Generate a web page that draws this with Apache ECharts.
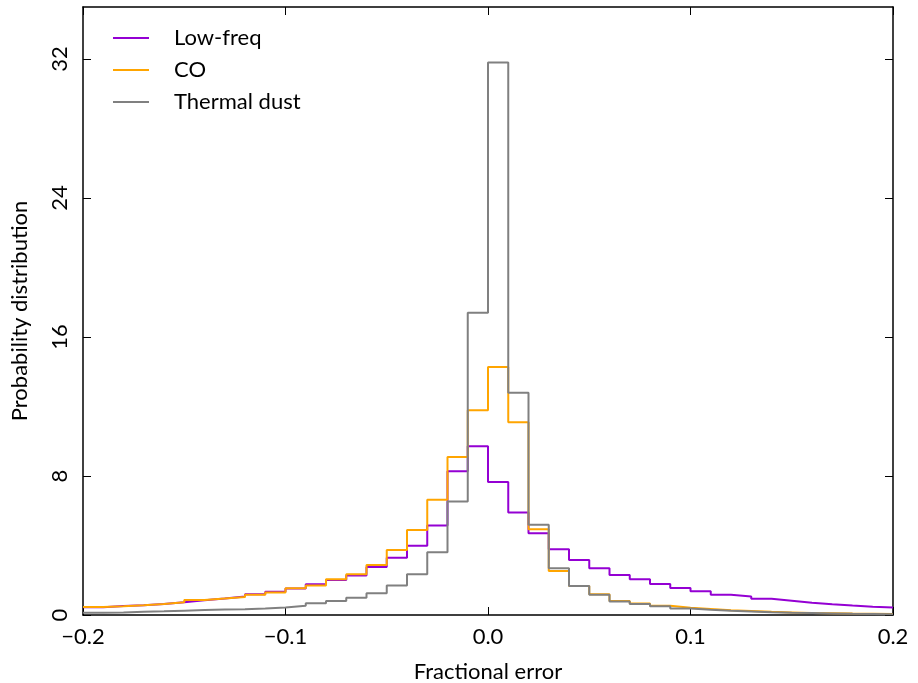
<!DOCTYPE html>
<html>
<head>
<meta charset="utf-8">
<script src="https://cdn.jsdelivr.net/npm/echarts@6/dist/echarts.min.js"></script>
<style>
html,body{margin:0;padding:0;background:#fff;}
#chart{width:918px;height:683px;}
</style>
</head>
<body>
<div id="chart"></div>
<script>
// Histogram bins: 40 bins of width 0.01 from -0.2 to 0.2
var binStart = -0.2;
var binWidth = 0.01;
var seriesNames = ['Low-freq', 'CO', 'Thermal dust'];
var lowFreq = [0.44, 0.52, 0.56, 0.64, 0.74, 0.85, 0.95, 1.06, 1.2, 1.34, 1.52, 1.77, 2.02, 2.27, 2.77, 3.3, 3.98, 5.15, 8.27, 9.71,
               7.65, 5.9, 4.71, 3.79, 3.17, 2.69, 2.3, 2.06, 1.79, 1.56, 1.36, 1.16, 1.06, 0.93, 0.82, 0.71, 0.62, 0.54, 0.48, 0.43];
var co = [0.46, 0.5, 0.56, 0.63, 0.73, 0.86, 0.95, 1.04, 1.16, 1.3, 1.54, 1.7, 2.06, 2.34, 2.88, 3.74, 4.9, 6.63, 9.09, 11.78,
          14.28, 11.09, 4.94, 2.54, 1.67, 1.19, 0.8, 0.66, 0.53, 0.42, 0.35, 0.28, 0.23, 0.18, 0.15, 0.12, 0.1, 0.08, 0.07, 0.06];
var thermalDust = [0.13, 0.15, 0.18, 0.21, 0.25, 0.29, 0.32, 0.33, 0.37, 0.43, 0.53, 0.67, 0.8, 1.0, 1.25, 1.7, 2.35, 3.61, 6.53, 17.4,
                   31.8, 12.8, 5.19, 2.69, 1.67, 1.17, 0.78, 0.64, 0.5, 0.38, 0.3, 0.24, 0.2, 0.16, 0.13, 0.11, 0.09, 0.07, 0.06, 0.05];
var colors = ['#9400d3', '#ffa500', '#808080'];
var yTicks = [0, 8, 16, 24, 32];

function stepData(vals) {
  var d = [];
  for (var i = 0; i < vals.length; i++) {
    d.push([+(binStart + i * binWidth).toFixed(4), vals[i]]);
  }
  d.push([+(binStart + vals.length * binWidth).toFixed(4), vals[vals.length - 1]]);
  return d;
}

var FONT = 'Lato';
var FS = 22;
var chart = echarts.init(document.getElementById('chart'), null, {renderer: 'canvas'});
var axisLineStyle = {color: '#000', width: 1.5};
var option = {
  animation: false,
  backgroundColor: '#fff',
  color: colors,
  textStyle: {fontFamily: FONT},
  grid: {left: 83, right: 25, top: 7, bottom: 68, show: false, outerBoundsMode: 'none', containLabel: false},
  legend: {
    orient: 'vertical',
    left: 108,
    top: 22,
    itemWidth: 36,
    itemHeight: 2,
    itemGap: 10,
    icon: 'rect',
    textStyle: {fontFamily: FONT, fontSize: FS, color: '#000', padding: [0, 0, 0, 20]},
    data: seriesNames
  },
  xAxis: [{
    type: 'value', min: -0.2, max: 0.2, interval: 0.1,
    name: 'Fractional error', nameLocation: 'middle', nameGap: 46,
    nameTextStyle: {fontFamily: FONT, fontSize: FS, color: '#000'},
    axisLine: {show: true, onZero: false, lineStyle: axisLineStyle},
    axisTick: {show: true, inside: true, length: 8, lineStyle: {color: '#000', width: 1}},
    axisLabel: {fontFamily: FONT, fontSize: FS, color: '#000', margin: 11,
      formatter: function (v) { return (v < -1e-9 ? '\u2212' : '') + Math.abs(v).toFixed(1); }},
    splitLine: {show: false}
  }, {
    type: 'value', min: -0.2, max: 0.2, interval: 0.1, position: 'top',
    axisLine: {show: true, onZero: false, lineStyle: axisLineStyle},
    axisTick: {show: true, inside: true, length: 8, lineStyle: {color: '#000', width: 1}},
    axisLabel: {show: false}, splitLine: {show: false}
  }],
  yAxis: [{
    type: 'value', min: 0, max: 35, interval: 8,
    name: 'Probability distribution', nameLocation: 'middle', nameGap: 52,
    nameTextStyle: {fontFamily: FONT, fontSize: FS, color: '#000'},
    axisLine: {show: true, onZero: false, lineStyle: axisLineStyle},
    axisTick: {show: true, inside: true, length: 8, lineStyle: {color: '#000', width: 1},
      customValues: yTicks},
    axisLabel: {fontFamily: FONT, fontSize: FS, color: '#000', rotate: 90, margin: 12,
      customValues: yTicks},
    splitLine: {show: false}
  }, {
    type: 'value', min: 0, max: 35, interval: 8, position: 'right',
    axisLine: {show: true, onZero: false, lineStyle: axisLineStyle},
    axisTick: {show: true, inside: true, length: 8, lineStyle: {color: '#000', width: 1},
      customValues: yTicks},
    axisLabel: {show: false}, splitLine: {show: false}
  }],
  series: [
    {name: seriesNames[0], type: 'line', step: 'end', symbol: 'none', data: stepData(lowFreq),
     lineStyle: {width: 2, color: colors[0]}, itemStyle: {color: colors[0]}, z: 3},
    {name: seriesNames[1], type: 'line', step: 'end', symbol: 'none', data: stepData(co),
     lineStyle: {width: 2, color: colors[1]}, itemStyle: {color: colors[1]}, z: 4},
    {name: seriesNames[2], type: 'line', step: 'end', symbol: 'none', data: stepData(thermalDust),
     lineStyle: {width: 2, color: colors[2]}, itemStyle: {color: colors[2]}, z: 5}
  ]
};
chart.setOption(option);
</script>
</body>
</html>
